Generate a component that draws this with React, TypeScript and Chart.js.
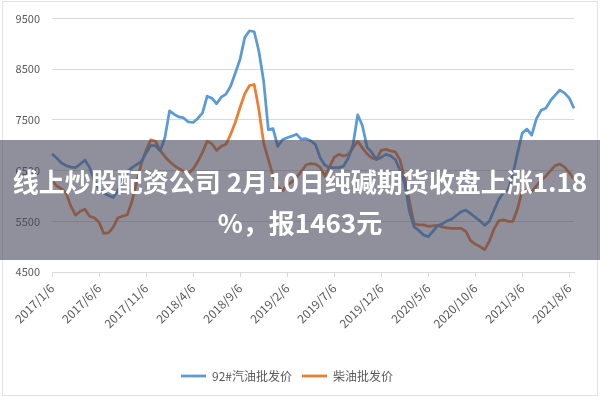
import { useEffect, useRef } from "react";
import { Chart, registerables } from "chart.js";

Chart.register(...registerables);

// Tick labels shown on the x axis (every 5 months)
const TICK_LABELS = [
  "2017/1/6", "2017/6/6", "2017/11/6", "2018/4/6", "2018/9/6", "2019/2/6",
  "2019/7/6", "2019/12/6", "2020/5/6", "2020/10/6", "2021/3/6", "2021/8/6",
];
const POINTS_PER_TICK = 10; // semi-monthly observations

const SERIES_NAMES = ["92#汽油批发价", "柴油批发价"];

const GASOLINE_92 = [
  6830, 6750, 6650, 6600, 6570, 6560, 6630, 6710, 6560, 6300,
  6130, 6060, 6010, 5970, 6100, 6310, 6480, 6560, 6620, 6680,
  6850, 7000, 6990, 6890, 7150, 7680, 7610, 7560, 7540, 7460,
  7450, 7530, 7640, 7970, 7930, 7820, 7950, 8010, 8170, 8430,
  8700, 9130, 9260, 9240, 8850, 8270, 7310, 7330, 6980, 7110,
  7150, 7180, 7220, 7120, 7130, 7090, 7020, 6760, 6610, 6560,
  6560, 6560, 6590, 6750, 7000, 7600, 7390, 6960, 6860, 6720,
  6760, 6820, 6790, 6720, 6510, 6250, 5700, 5390, 5320, 5230,
  5195, 5300, 5410, 5450, 5510, 5540, 5620, 5690, 5720, 5650,
  5580, 5510, 5420, 5500, 5720, 5930, 6070, 6120, 6430, 6850,
  7240, 7320, 7200, 7520, 7690, 7730, 7880, 7990, 8090, 8030,
  7930, 7730,
];

const DIESEL = [
  6300, 6200, 6140, 6060, 5800, 5620, 5700, 5740, 5600, 5570,
  5480, 5260, 5270, 5380, 5570, 5600, 5630, 5890, 6270, 6640,
  6900, 7110, 7080, 6900, 6780, 6680, 6600, 6540, 6490, 6450,
  6530, 6680, 6860, 7080, 7030, 6900, 6980, 7020, 7220, 7460,
  7750, 8020, 8180, 8200, 7700, 7050, 6720, 6400, 6180, 6100,
  6210, 6280, 6370, 6480, 6610, 6640, 6630, 6570, 6390, 6570,
  6760, 6820, 6790, 6820, 6950, 7080, 6950, 6830, 6750, 6720,
  6900, 6920, 6890, 6870, 6710, 6350, 5900, 5450, 5430, 5430,
  5400, 5410, 5420, 5390, 5370, 5360, 5360, 5360, 5300, 5120,
  5050, 5000, 4940, 5110, 5350, 5510, 5530, 5500, 5500, 5750,
  6110, 6100, 6080, 6200, 6310, 6390, 6500, 6600, 6630, 6570,
  6460, 6330,
];

const Y_MIN = 4500;
const Y_MAX = 9500;
const Y_STEP = 1000;

const TITLE_LINES = ["线上炒股配资公司 2月10日纯碱期货收盘上涨1.18", "%，报1463元"];

// Category labels: semi-monthly dates (6th and 21st of each month)
function buildCategories(count: number): string[] {
  const out: string[] = [];
  for (let i = 0; i < count; i++) {
    const m = Math.floor(i / 2);
    const year = 2017 + Math.floor(m / 12);
    const month = (m % 12) + 1;
    const day = i % 2 === 0 ? 6 : 21;
    out.push(`${year}/${month}/${day}`);
  }
  return out;
}
const CATEGORIES = buildCategories(GASOLINE_92.length);

const FONT = "'Noto Sans CJK SC', 'Noto Sans', sans-serif";
const BLUE = "#5b9bd5";
const ORANGE = "#ed7d31";
const GRID = "#d9d9d9";
const TEXT = "#595959";

export default function App() {
  const ref = useRef<HTMLCanvasElement>(null);

  useEffect(() => {
    const canvas = ref.current;
    if (!canvas) return;
    const chart = new Chart(canvas, {
      type: "line",
      data: {
        labels: CATEGORIES,
        datasets: [
          {
            label: SERIES_NAMES[0],
            data: GASOLINE_92,
            borderColor: BLUE,
            backgroundColor: BLUE,
            borderWidth: 2.75,
            pointRadius: 0,
            pointStyle: "line",
            tension: 0,
            borderJoinStyle: "round",
          },
          {
            label: SERIES_NAMES[1],
            data: DIESEL,
            borderColor: ORANGE,
            backgroundColor: ORANGE,
            borderWidth: 2.75,
            pointRadius: 0,
            pointStyle: "line",
            tension: 0,
            borderJoinStyle: "round",
          },
        ],
      },
      options: {
        responsive: false,
        animation: false,
        devicePixelRatio: 1,
        layout: { padding: { left: 0, right: 26, top: 17, bottom: 8 } },
        plugins: {
          legend: {
            position: "bottom",
            labels: {
              usePointStyle: true,
              pointStyle: "line",
              pointStyleWidth: 25,
              padding: 10,
              color: TEXT,
              font: { family: FONT, size: 12 },
            },
          },
          tooltip: { enabled: false },
        },
        scales: {
          x: {
            type: "category",
            offset: false,
            afterBuildTicks: (scale: any) => {
              scale.ticks = scale.ticks.filter((t: any) => t.value % POINTS_PER_TICK === 0);
            },
            afterFit: (scale: any) => {
              scale.height = 88;
            },
            grid: {
              drawOnChartArea: false,
              drawTicks: true,
              tickLength: 5,
              color: GRID,
            },
            border: { display: true, color: GRID },
            ticks: {
              autoSkip: false,
              maxRotation: 45,
              minRotation: 45,
              padding: 4,
              color: TEXT,
              font: { family: FONT, size: 12 },
              callback: (value: any) => TICK_LABELS[Math.round(Number(value) / POINTS_PER_TICK)] ?? null,
            },
          },
          y: {
            min: Y_MIN,
            max: Y_MAX,
            afterFit: (scale: any) => {
              scale.width = 52;
            },
            grid: { color: GRID, drawTicks: false },
            border: { display: false },
            ticks: {
              stepSize: Y_STEP,
              padding: 12,
              color: TEXT,
              font: { family: FONT, size: 11 },
              callback: (value: any) => String(value),
            },
          },
        },
      },
    });
    return () => chart.destroy();
  }, []);

  return (
    <div
      style={{
        position: "fixed",
        left: 0,
        top: 0,
        width: 600,
        height: 400,
        background: "#ffffff",
        overflow: "hidden",
      }}
    >
      <canvas
        ref={ref}
        width={600}
        height={400}
        style={{ position: "absolute", left: 0, top: 0, width: 600, height: 400 }}
      />
      <div
        style={{
          position: "absolute",
          left: 2,
          top: 1,
          width: 594,
          height: 393,
          border: "1px solid #e3e3e3",
          pointerEvents: "none",
        }}
      />
      <div
        style={{
          position: "absolute",
          left: 0,
          top: 140,
          width: 600,
          height: 120,
          background: "rgba(70,70,90,0.6)",
          color: "#ffffff",
          fontFamily: FONT,
          fontWeight: 700,
          fontSize: 26,
          textAlign: "center",
          whiteSpace: "nowrap",
        }}
      >
        <div style={{ paddingTop: 20, lineHeight: "41px" }}>
          {TITLE_LINES.map((t) => (
            <div key={t}>{t}</div>
          ))}
        </div>
      </div>
    </div>
  );
}
